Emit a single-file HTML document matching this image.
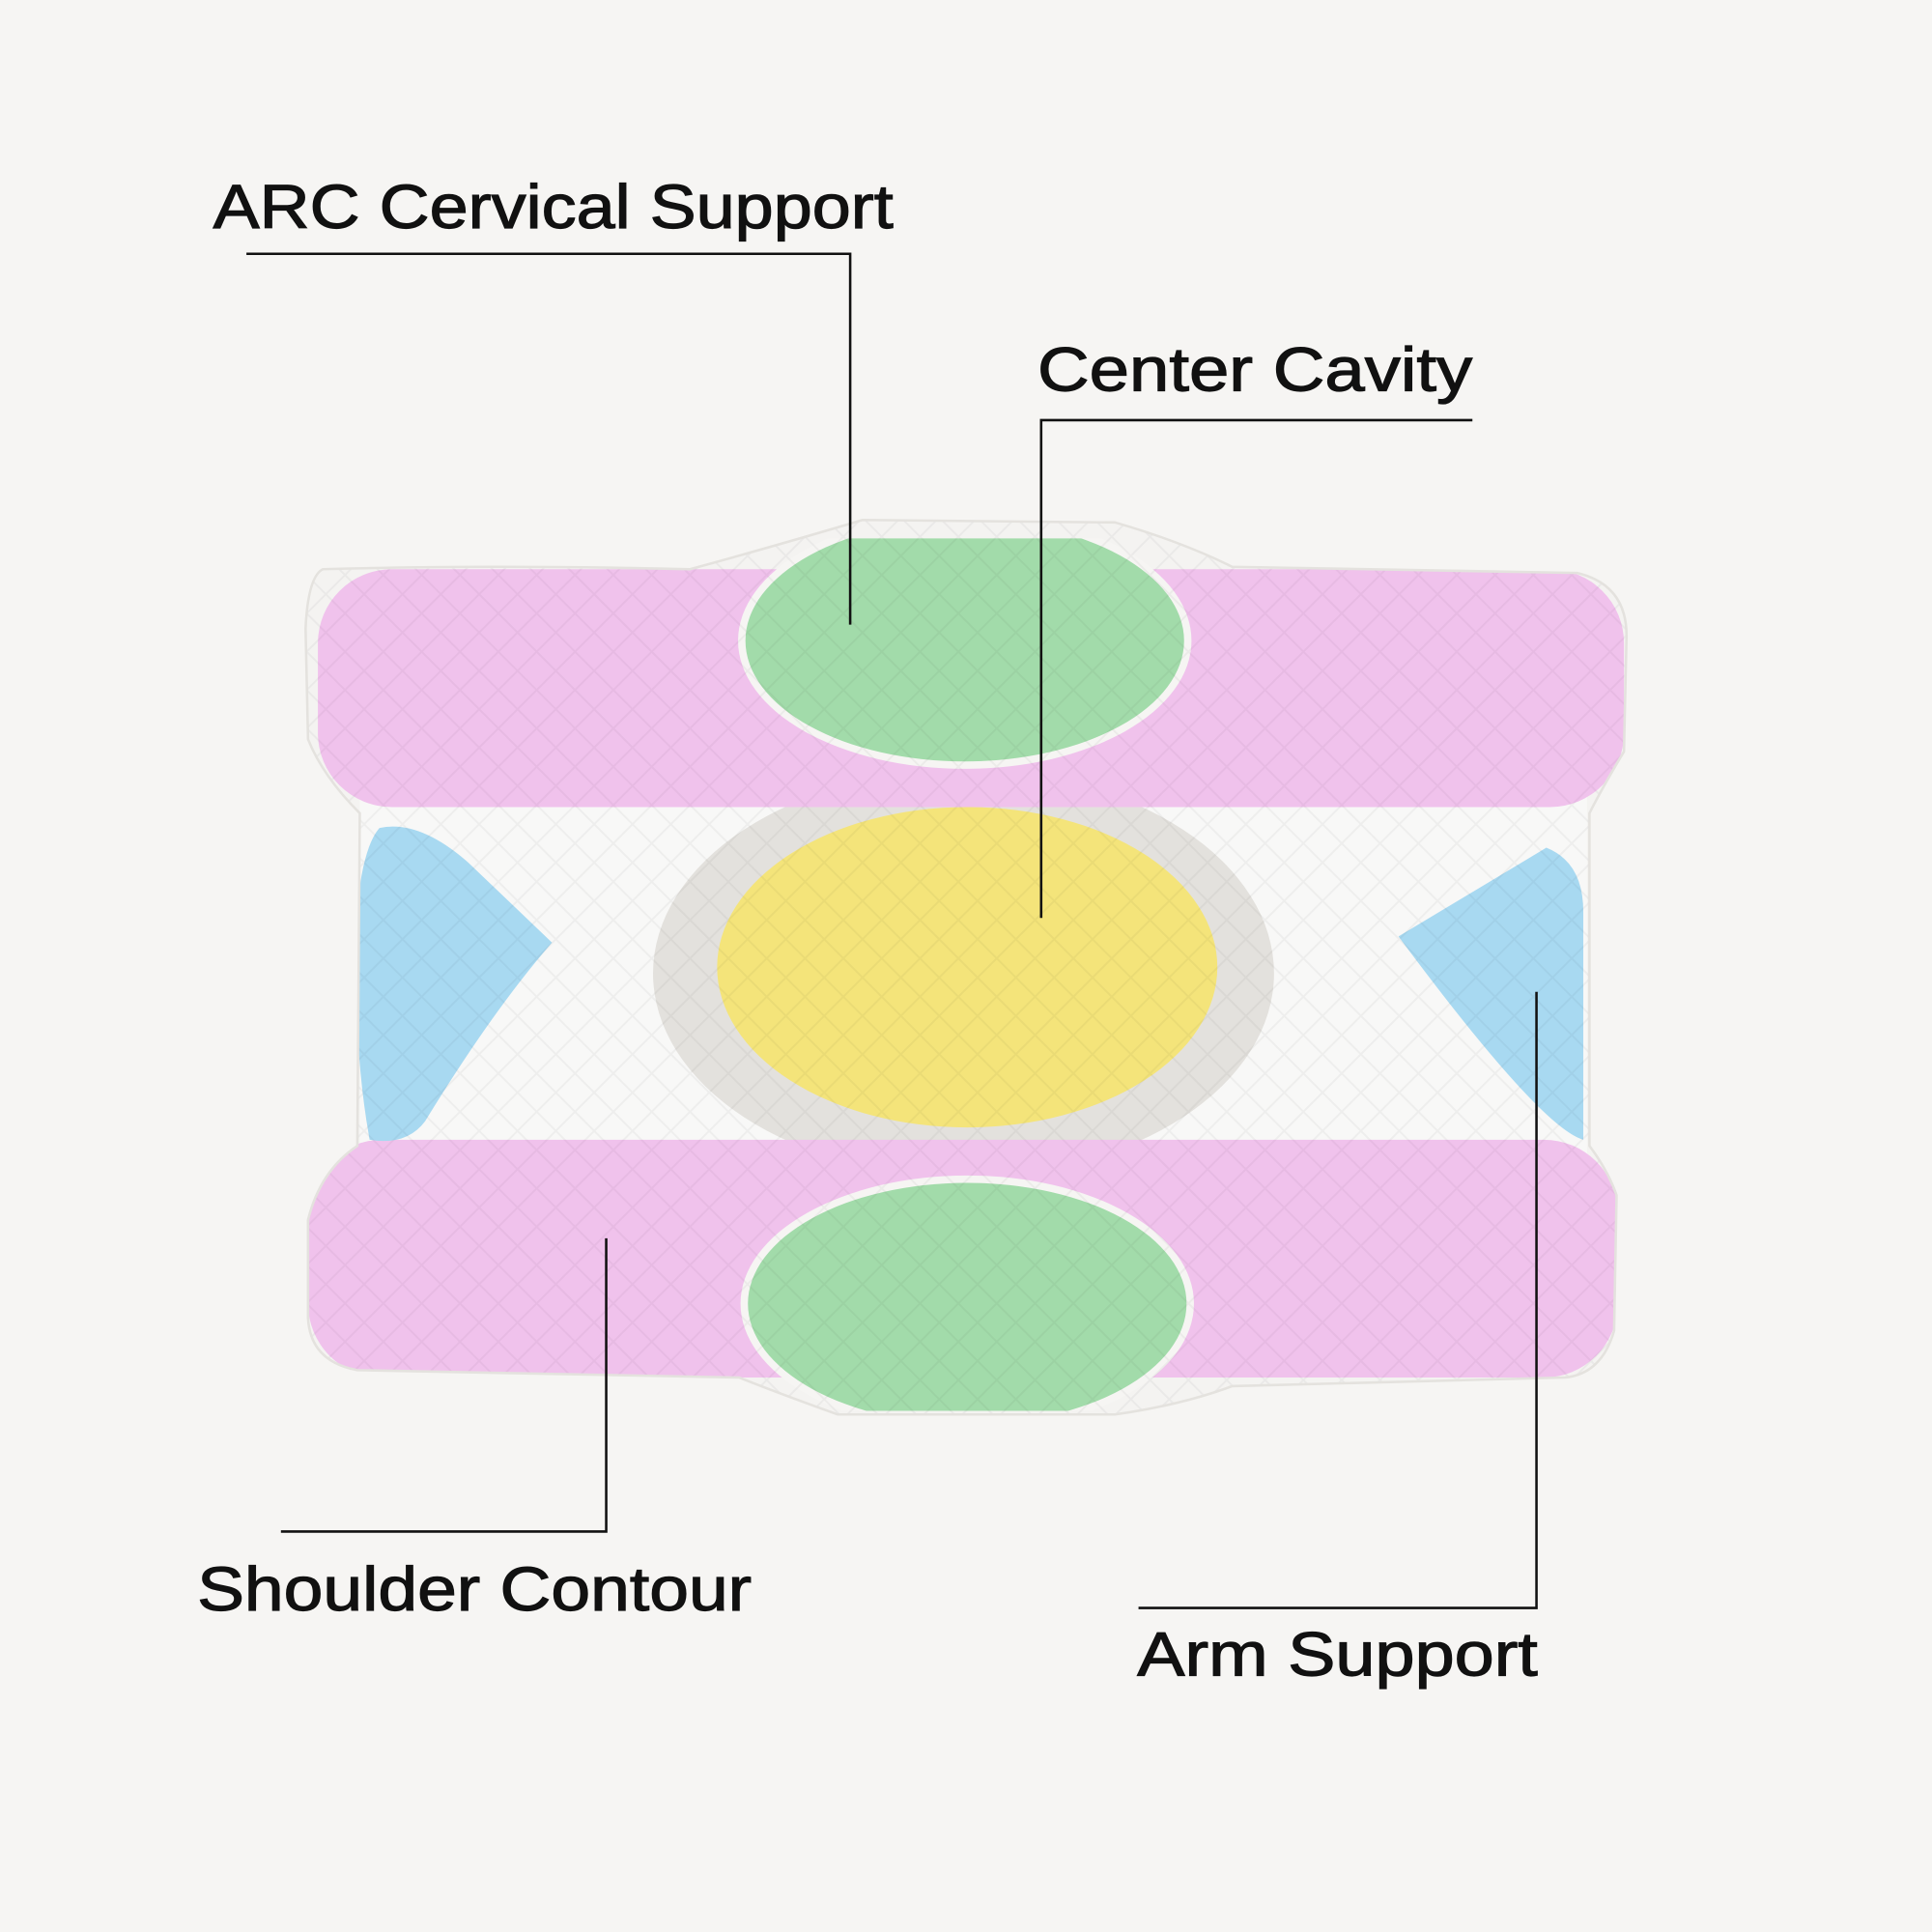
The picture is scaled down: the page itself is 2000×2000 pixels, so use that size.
<!DOCTYPE html>
<html><head><meta charset="utf-8"><style>
html,body{margin:0;padding:0;background:#f6f5f3;}
svg{display:block;}
text{font-family:"Liberation Sans",sans-serif;fill:#111;stroke:#111;stroke-width:0.9;}
</style></head><body>
<svg width="2000" height="2000" viewBox="0 0 1568 1568" xmlns="http://www.w3.org/2000/svg">
<defs>
<pattern id="q" width="22" height="22" patternUnits="userSpaceOnUse" patternTransform="rotate(45)">
<rect width="22" height="22" fill="none" stroke="#000" stroke-opacity="0.04" stroke-width="1.5"/>
</pattern>
<clipPath id="body"><path id="bp" d="M262,462 Q400,458 560,462 Q640,440 700,422 L905,424 Q960,440 1000,460 L1280,465 Q1322,475 1320,520 L1318,610 Q1300,640 1290,660 L1290,930 Q1305,950 1312,970 L1310,1080 Q1300,1115 1270,1118 L1000,1125 Q960,1140 905,1148 L680,1148 Q630,1130 600,1118 L290,1112 Q252,1105 250,1070 L250,990 Q260,950 290,930 L292,660 Q262,630 250,600 L248,510 Q250,468 262,462Z"/></clipPath>
<clipPath id="gtop"><rect x="560" y="437" width="450" height="300"/></clipPath>
<clipPath id="gbot"><rect x="560" y="900" width="450" height="245"/></clipPath>
</defs>
<rect width="1568" height="1568" fill="#f6f5f3"/>
<g clip-path="url(#body)">
<rect x="240" y="410" width="1090" height="750" fill="#f4f3f1"/>
<rect x="292" y="628" width="996" height="318" fill="#f8f8f7"/>
<ellipse cx="782" cy="790" rx="252" ry="165" fill="#e3e1dd"/>
<rect x="258" y="462" width="1060" height="193" rx="60" fill="#f0c2ec"/>
<rect x="250" y="925" width="1063" height="193" rx="60" fill="#f0c2ec"/>
<g clip-path="url(#gtop)"><ellipse cx="783" cy="520" rx="184" ry="104" fill="#f6f5f3"/><ellipse cx="783" cy="520" rx="178" ry="98" fill="#a2dbaa"/></g>
<g clip-path="url(#gbot)"><ellipse cx="785" cy="1058" rx="184" ry="104" fill="#f6f5f3"/><ellipse cx="785" cy="1058" rx="178" ry="98" fill="#a2dbaa"/></g>
<path d="M308,672 Q340,665 380,700 L448,765 Q400,820 345,910 Q330,930 300,925 Q288,860 288,760 Q292,690 308,672Z" fill="#a8d9f1"/>
<path d="M1135,760 L1255,688 Q1285,700 1285,740 L1285,925 Q1250,915 1135,760Z" fill="#a8d9f1"/>
<ellipse cx="785" cy="785" rx="203" ry="130" fill="#f4e47a"/>
<rect x="240" y="410" width="1090" height="750" fill="url(#q)"/>
</g>
<use href="#bp" fill="none" stroke="#e4e2de" stroke-width="2"/>
<text x="173" y="185" font-size="50" textLength="552" lengthAdjust="spacingAndGlyphs">ARC Cervical Support</text>
<text x="842" y="317" font-size="50" textLength="353" lengthAdjust="spacingAndGlyphs">Center Cavity</text>
<text x="160" y="1307" font-size="50" textLength="450" lengthAdjust="spacingAndGlyphs">Shoulder Contour</text>
<text x="923" y="1360" font-size="50" textLength="325" lengthAdjust="spacingAndGlyphs">Arm Support</text>
<g stroke="#111" stroke-width="2" fill="none">
<polyline points="200,206 690,206 690,507"/>
<polyline points="1195,341 845,341 845,745"/>
<polyline points="228,1243 492,1243 492,1005"/>
<polyline points="924,1305 1247,1305 1247,805"/>
</g>
</svg>
</body></html>
